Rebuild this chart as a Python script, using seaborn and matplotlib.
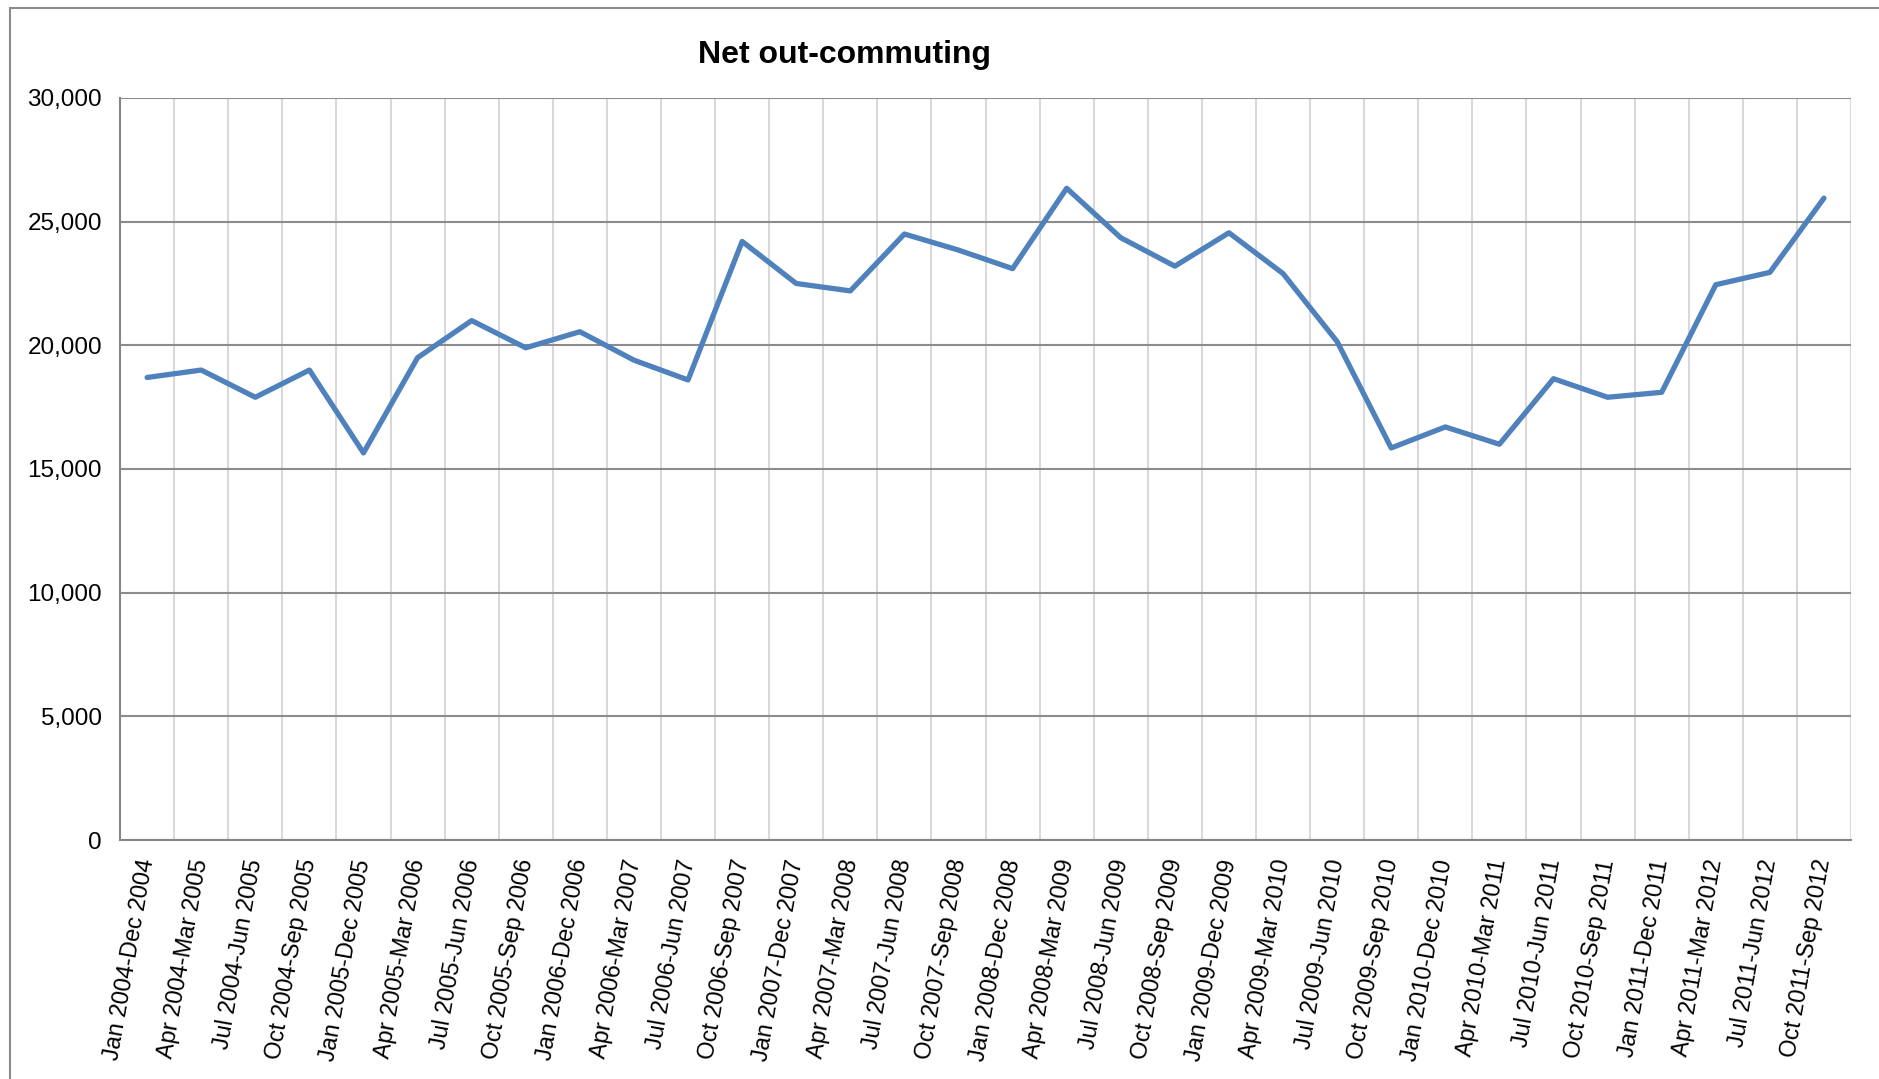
import numpy as np
import pandas as pd
import matplotlib
matplotlib.use("Agg")
import matplotlib.pyplot as plt
import matplotlib.ticker as mticker
from matplotlib.patches import Rectangle
import seaborn as sns

periods = [
    "Jan 2004-Dec 2004", "Apr 2004-Mar 2005", "Jul 2004-Jun 2005", "Oct 2004-Sep 2005",
    "Jan 2005-Dec 2005", "Apr 2005-Mar 2006", "Jul 2005-Jun 2006", "Oct 2005-Sep 2006",
    "Jan 2006-Dec 2006", "Apr 2006-Mar 2007", "Jul 2006-Jun 2007", "Oct 2006-Sep 2007",
    "Jan 2007-Dec 2007", "Apr 2007-Mar 2008", "Jul 2007-Jun 2008", "Oct 2007-Sep 2008",
    "Jan 2008-Dec 2008", "Apr 2008-Mar 2009", "Jul 2008-Jun 2009", "Oct 2008-Sep 2009",
    "Jan 2009-Dec 2009", "Apr 2009-Mar 2010", "Jul 2009-Jun 2010", "Oct 2009-Sep 2010",
    "Jan 2010-Dec 2010", "Apr 2010-Mar 2011", "Jul 2010-Jun 2011", "Oct 2010-Sep 2011",
    "Jan 2011-Dec 2011", "Apr 2011-Mar 2012", "Jul 2011-Jun 2012", "Oct 2011-Sep 2012",
]
net_out = [
    18700, 19000, 17900, 19000, 15650, 19500, 21000, 19900,
    20550, 19400, 18600, 24200, 22500, 22200, 24500, 23850,
    23100, 26350, 24350, 23200, 24550, 22900, 20150, 15850,
    16700, 16000, 18650, 17900, 18100, 22450, 22950, 25950,
]
y_ticks = [0, 5000, 10000, 15000, 20000, 25000, 30000]

df = pd.DataFrame({"period": periods, "value": net_out})

sns.set_style("white")
plt.rcParams["font.family"] = ["Liberation Sans", "DejaVu Sans"]
plt.rcParams["text.color"] = "black"
plt.rcParams["xtick.color"] = "black"
plt.rcParams["ytick.color"] = "black"

fig = plt.figure(figsize=(18.79, 10.79), dpi=100)
ax = fig.add_axes([0.0639, 0.2215, 0.9212, 0.6877])

sns.lineplot(data=df, x="period", y="value", sort=False, ax=ax,
             color="#4F81BD", linewidth=3.8, solid_joinstyle="round",
             solid_capstyle="round", zorder=5)

n = len(periods)
ax.set_xlim(-0.5, n - 0.5)
ax.set_ylim(0, 30000)

# category boundaries get the tick marks and the light vertical grid
ax.set_xticks(np.arange(n + 1) - 0.5)
ax.set_xticklabels([""] * (n + 1))
ax.set_xticks(np.arange(n), labels=periods, minor=True)
ax.tick_params(axis="x", which="major", length=7, width=1.5, color="#868686", direction="out")
ax.tick_params(axis="x", which="minor", length=0, pad=14, labelsize=16.8, labelcolor="black")
for lab in ax.get_xticklabels(minor=True):
    lab.set_rotation(80)
    lab.set_ha("right")
    lab.set_va("center")
    lab.set_rotation_mode("anchor")

ax.set_yticks(y_ticks)
ax.yaxis.set_major_formatter(mticker.StrMethodFormatter("{x:,.0f}"))
ax.tick_params(axis="y", length=7, width=1.5, color="#868686", direction="out",
               labelsize=17.5, labelcolor="black", pad=6)

ax.grid(axis="x", which="major", color="#D9D9D9", linewidth=1.5)
ax.grid(axis="y", which="major", color="#8C8C8C", linewidth=1.5)
ax.set_axisbelow(True)

for side in ["top", "right"]:
    ax.spines[side].set_visible(False)
for side in ["left", "bottom"]:
    ax.spines[side].set_color("#868686")
    ax.spines[side].set_linewidth(1.5)

ax.set_xlabel("")
ax.set_ylabel("")

fig.text(845 / 1879, 1 - 55 / 1079, "Net out-commuting", ha="center", va="center",
         fontsize=23, fontweight="bold", color="black")

# chart area border (cropped at right and bottom)
fig.patches.append(Rectangle((10 / 1879, -0.05), 1.2, 1 - 8 / 1079 + 0.05,
                             transform=fig.transFigure, fill=False,
                             edgecolor="#8C8C8C", linewidth=1.5))

fig.savefig("out.png", dpi=100)
